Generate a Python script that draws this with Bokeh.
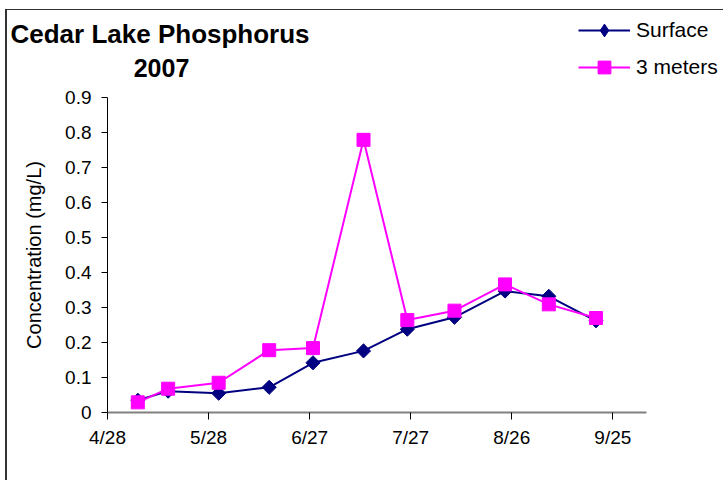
import numpy as np
import pandas as pd
from bokeh.plotting import figure
from bokeh.layouts import column
from bokeh.models import (ColumnDataSource, FixedTicker, CustomJSTickFormatter, Range1d,
                          Legend, LegendItem, Label)
from bokeh.embed import file_html
from bokeh.resources import INLINE

# ---- data ----
dates = ["2007-05-07", "2007-05-16", "2007-05-31", "2007-06-15", "2007-06-28", "2007-07-13",
         "2007-07-26", "2007-08-09", "2007-08-24", "2007-09-06", "2007-09-20"]
surface = [0.035, 0.061, 0.055, 0.072, 0.142, 0.176, 0.238, 0.272, 0.347, 0.332, 0.262]
meters3 = [0.029, 0.068, 0.085, 0.178, 0.184, 0.779, 0.264, 0.291, 0.366, 0.309, 0.270]
tick_dates = ["2007-04-28", "2007-05-28", "2007-06-27", "2007-07-27", "2007-08-26", "2007-09-25"]
x_start, x_end = "2007-04-28", "2007-10-05"
y_ticks = [0, 0.1, 0.2, 0.3, 0.4, 0.5, 0.6, 0.7, 0.8, 0.9]
series_names = ["Surface", "3 meters"]
title_lines = ["Cedar Lake Phosphorus", "2007"]

FONT = "Liberation Sans"
NAVY, MAGENTA = "#000080", "#FF00FF"

src = ColumnDataSource(dict(x=pd.to_datetime(dates), s=surface, m=meters3))

W = 716
H_TOP = 76
H_MAIN = 394

# ---------- main chart ----------
p = figure(width=W, height=H_MAIN, x_axis_type="datetime", output_backend="svg",
           toolbar_location=None, min_border_left=100, min_border_right=77,
           min_border_top=11, min_border_bottom=68,
           x_range=Range1d(pd.Timestamp(x_start), pd.Timestamp(x_end)),
           y_range=Range1d(0, 0.9))
p.frame_align = False
p.outline_line_color = None
p.grid.visible = False
p.background_fill_color = "white"
p.border_fill_color = "white"

p.line("x", "s", source=src, line_color=NAVY, line_width=2)
p.scatter("x", "s", source=src, marker="square", angle=np.pi / 4, size=10,
          fill_color=NAVY, line_color=NAVY)
p.line("x", "m", source=src, line_color=MAGENTA, line_width=2)
p.scatter("x", "m", source=src, marker="square", size=13,
          fill_color=MAGENTA, line_color=MAGENTA)

xa = p.xaxis[0]
xa.ticker = FixedTicker(ticks=[pd.Timestamp(d).value / 1e6 for d in tick_dates])
xa.formatter = CustomJSTickFormatter(code="""
const d = new Date(tick);
return (d.getUTCMonth() + 1) + "/" + d.getUTCDate();
""")
xa.axis_line_color = "#808080"
xa.axis_line_width = 2
xa.major_tick_line_color = "black"
xa.major_tick_out = 7
xa.major_tick_in = 0
xa.minor_tick_line_color = None
xa.major_label_text_font = FONT
xa.major_label_text_font_size = "19px"
xa.major_label_text_color = "black"
xa.major_label_standoff = 7

ya = p.yaxis[0]
ya.ticker = FixedTicker(ticks=y_ticks)
ya.axis_line_color = "black"
ya.major_tick_line_color = "black"
ya.major_tick_out = 6
ya.major_tick_in = 0
ya.minor_tick_line_color = None
ya.major_label_text_font = FONT
ya.major_label_text_font_size = "19px"
ya.major_label_text_color = "black"
ya.major_label_standoff = 10
ya.axis_label = "Concentration (mg/L)"
ya.axis_label_text_font = FONT
ya.axis_label_text_font_size = "20px"
ya.axis_label_text_font_style = "normal"
ya.axis_label_text_color = "black"
ya.axis_label_standoff = 17

# ---------- header strip: title + legend ----------
top = figure(width=W, height=H_TOP, output_backend="svg", toolbar_location=None,
             x_axis_location=None, y_axis_location=None,
             min_border_left=0, min_border_right=0, min_border_top=0, min_border_bottom=0,
             x_range=Range1d(0, 1), y_range=Range1d(0, 1))
top.frame_align = False
top.outline_line_color = None
top.grid.visible = False
top.background_fill_color = "white"
top.border_fill_color = "white"
# series renderers (their data lie outside this strip's view; used for the legend keys)
t1 = top.line("x", "s", source=src, line_color=NAVY, line_width=2)
tm1 = top.scatter("x", "s", source=src, marker="diamond", size=10,
                  fill_color=NAVY, line_color=NAVY)
t2 = top.line("x", "m", source=src, line_color=MAGENTA, line_width=2)
tm2 = top.scatter("x", "m", source=src, marker="square", size=13,
                  fill_color=MAGENTA, line_color=MAGENTA)

top.add_layout(Label(x=3, y=53, x_units="screen", y_units="screen",
                     text=title_lines[0], text_font=FONT, text_font_size="26px",
                     text_font_style="bold", text_baseline="middle", text_align="left",
                     text_color="black"))
top.add_layout(Label(x=154, y=19, x_units="screen", y_units="screen",
                     text=title_lines[1], text_font=FONT, text_font_size="25px",
                     text_font_style="bold", text_baseline="middle", text_align="center",
                     text_color="black"))

legend = Legend(items=[LegendItem(label=series_names[0], renderers=[t1, tm1]),
                       LegendItem(label=series_names[1], renderers=[t2, tm2])],
                location=(571, 3), padding=0, margin=0, spacing=5,
                glyph_width=52, glyph_height=32, label_height=32, label_standoff=6,
                label_text_font=FONT, label_text_font_size="21px",
                label_text_color="black", border_line_color=None,
                background_fill_alpha=0)
top.add_layout(legend)

page = column(top, p, spacing=0,
              styles={"margin-left": "5px", "margin-top": "9px",
                      "border-left": "2px solid #333333", "border-top": "1px solid #333333"})

open("out.html", "w").write(file_html(page, INLINE))
